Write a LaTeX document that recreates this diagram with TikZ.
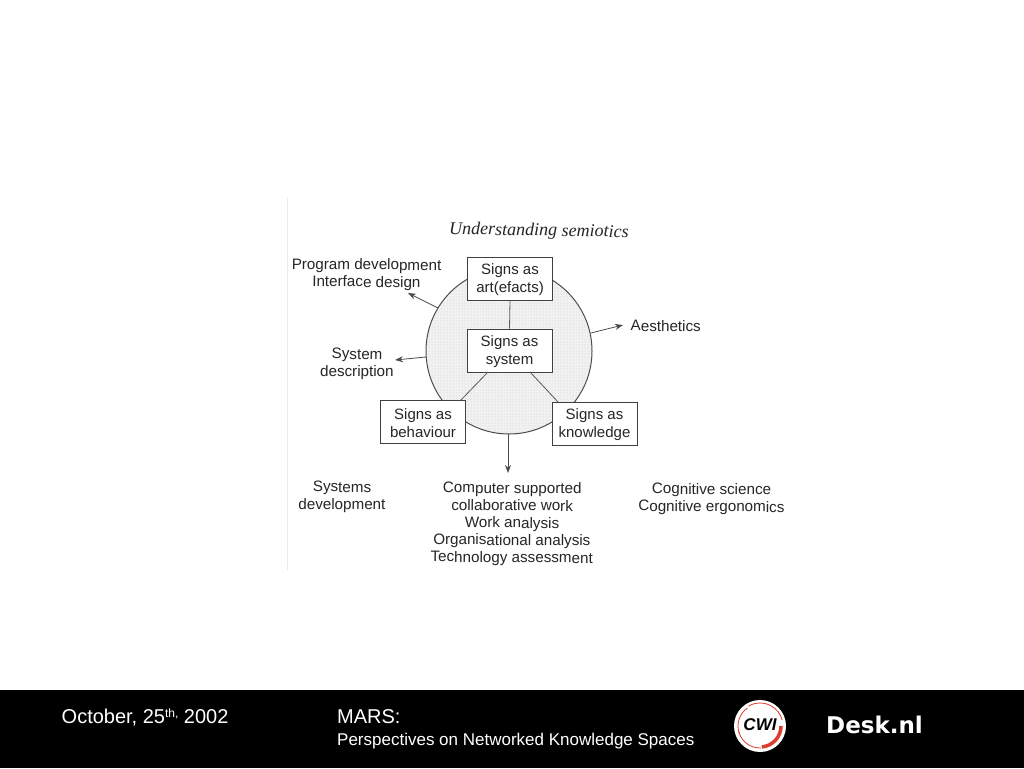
\documentclass[tikz,border=0pt]{standalone}
\usepackage{fontspec}
\setmainfont{Liberation Sans}
\newfontfamily\serifit{Liberation Serif}
\newfontfamily\deskfont{DejaVu Sans}
\usetikzlibrary{arrows.meta,patterns}
\definecolor{cwired}{RGB}{222,60,45}
\newcommand\bxs{\rule{0pt}{13.5pt}}
\tikzset{
  x=1pt,y=-1pt,
  lab/.style={font=\fontsize{15.2}{17.3}\selectfont,align=center,text=black!85,inner sep=0pt,rotate=-0.5},
  boxn/.style={draw=black!75,line width=1pt,fill=white,minimum width=85pt,minimum height=43pt,inner sep=0pt,align=center,font=\fontsize{15}{17.5}\selectfont,text=black!85},
  arr/.style={draw=black!70,line width=0.8pt,-{Stealth[length=8pt,width=6pt]}},
  link/.style={draw=black!65,line width=0.8pt},
  foot/.style={text=white,inner sep=0pt,anchor=base west}
}
\begin{document}
\begin{tikzpicture}
\useasboundingbox (0,0) rectangle (1024,768);
\fill[white] (0,0) rectangle (1024,768);
\fill[black] (0,690) rectangle (1024,768);
\draw[black!8,line width=0.8pt] (287,197) -- (287,570);
% circle
\node[circle,draw=black!70,line width=1pt,fill=black!5,minimum size=166pt,inner sep=0pt] (disc) at (509,351) {};
\fill[pattern=dots,pattern color=black!25] (509,351) circle (82);
% coordinates on the rim / free ends
\coordinate (rimA) at (438,308);
\coordinate (endA) at (408,293);
\coordinate (rimB) at (426,357);
\coordinate (endB) at (395,360);
\coordinate (rimC) at (591,333);
\coordinate (endC) at (623,325);
\coordinate (rimD) at (508,434);
\coordinate (endD) at (508,473);
% boxes
\node[boxn] (art) at (510,278.5) {\bxs Signs as\\art(efacts)};
\node[boxn] (sys) at (509.5,350.5) {\bxs Signs as\\system};
\node[boxn] (beh) at (423,422) {\bxs Signs as\\behaviour};
\node[boxn] (kno) at (594.5,423.5) {\bxs Signs as\\knowledge};
% links
\coordinate (sysSW) at (488,372);
\coordinate (sysSE) at (530,372);
\coordinate (behNE) at (460,401);
\coordinate (knoNW) at (558,402);
\draw[link] (art.south) -- (sys.north);
\draw[link] (sysSW) -- (behNE);
\draw[link] (sysSE) -- (knoNW);
% arrows
\draw[arr] (rimA) -- (endA);
\draw[arr] (rimB) -- (endB);
\draw[arr] (rimC) -- (endC);
\draw[arr] (rimD) -- (endD);
% labels
\node[font=\serifit\itshape\fontsize{18}{20}\selectfont,text=black!85,inner sep=0pt,rotate=-1] (title) at (539,231.5) {Understanding semiotics};
\node[lab] (l1) at (366.5,274.5) {Program development\\Interface design};
\node[lab] (l2) at (357,364) {System\\description};
\node[lab,anchor=west] (l3) at (630.5,325.5) {Aesthetics};
\node[lab] (l4) at (342,497) {Systems\\development};
\node[lab] (l5) at (512,524) {Computer supported\\collaborative work\\Work analysis\\Organisational analysis\\Technology assessment};
\node[lab] (l6) at (711.5,499) {Cognitive science\\Cognitive ergonomics};
% footer
\node[foot,font=\fontsize{20}{20}\selectfont] (date) at (61.5,723.5) {October, 25\raisebox{6.5pt}{\fontsize{12}{12}\selectfont th,} 2002};
\node[foot,font=\fontsize{20}{20}\selectfont] (mars) at (337,723.5) {MARS:};
\node[foot,font=\fontsize{17}{20}\selectfont] (persp) at (337,745) {Perspectives on Networked Knowledge Spaces};
% CWI logo
\node[circle,fill=white,minimum size=52pt,inner sep=0pt] (cwi) at (760,726) {};
\draw[cwired,line width=0.8pt] (760,726) ++(-120:23) arc[start angle=-120,end angle=-15,radius=23];
\draw[cwired,line width=0.8pt] (760,726) ++(160:22) arc[start angle=160,end angle=235,radius=22];
\draw[cwired,line width=0.8pt] (760,726) ++(88:22) arc[start angle=88,end angle=165,radius=22];
\draw[cwired,line width=3.5pt] (760,726) ++(0:21) arc[start angle=0,end angle=85,radius=21];
\node[font=\bfseries\itshape\fontsize{17}{17}\selectfont,text=black,inner sep=0pt] (cwit) at (760,725) {CWI};
\node[font=\deskfont\bfseries\fontsize{23}{24}\selectfont,text=white,inner sep=0pt] (desk) at (874.5,725) {Desk.nl};
\end{tikzpicture}
\end{document}
